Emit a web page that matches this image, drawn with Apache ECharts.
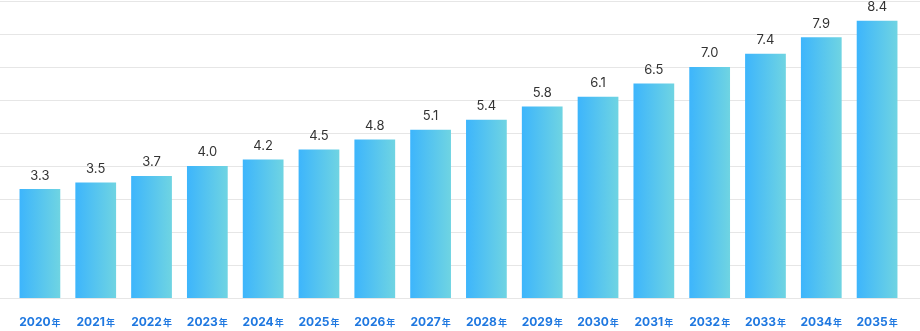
<!DOCTYPE html>
<html><head><meta charset="utf-8">
<script src="https://cdn.jsdelivr.net/npm/echarts@6/dist/echarts.min.js"></script>
<style>html,body{margin:0;padding:0;background:#fff}#c{width:920px;height:331px}</style>
</head><body><div id="c"></div>
<script>
const years = ['2020','2021','2022','2023','2024','2025','2026','2027','2028','2029','2030','2031','2032','2033','2034','2035'];
const values = [3.3,3.5,3.7,4.0,4.2,4.5,4.8,5.1,5.4,5.8,6.1,6.5,7.0,7.4,7.9,8.4];
const yMin = 0, yMax = 9, yStep = 1;

const chart = echarts.init(document.getElementById('c'));
chart.setOption({
  animation: false,
  grid: [
    {left: 0, right: 0, top: 1, bottom: 33},
    {left: 12, right: 15, top: 1, bottom: 33}
  ],
  xAxis: [
    {gridIndex: 0, type: 'category', data: years, show: false},
    {gridIndex: 1, type: 'category', data: years,
     axisLine: {show: false}, axisTick: {show: false},
     axisLabel: {interval: 0, margin: 18, formatter: v => '{y|' + v + '}{n|年}',
       rich: {y: {color: '#1f78e0', fontSize: 12, fontWeight: 'bold', fontFamily: 'Inter'},
              n: {color: '#1f78e0', fontSize: 9, fontWeight: 'bold', fontFamily: 'Noto Sans CJK JP', padding: [2,0,0,1]}}}}
  ],
  yAxis: [
    {gridIndex: 0, type: 'value', min: yMin, max: yMax, interval: yStep,
     axisLabel: {show: false}, axisLine: {show: false}, axisTick: {show: false},
     splitLine: {lineStyle: {color: '#e6e6e6', width: 1}}},
    {gridIndex: 1, type: 'value', min: yMin, max: yMax, interval: yStep, show: false}
  ],
  series: [{
    type: 'bar', xAxisIndex: 1, yAxisIndex: 1, data: values, barWidth: '73%',
    itemStyle: {color: new echarts.graphic.LinearGradient(0,0,1,0,[
      {offset: 0, color: '#3db5fc'}, {offset: 1, color: '#6fd4e2'}])},
    label: {show: true, position: 'top', distance: 7, color: '#333', fontSize: 13,
      fontFamily: 'Inter', formatter: p => p.value.toFixed(1)}
  }]
});
</script></body></html>
